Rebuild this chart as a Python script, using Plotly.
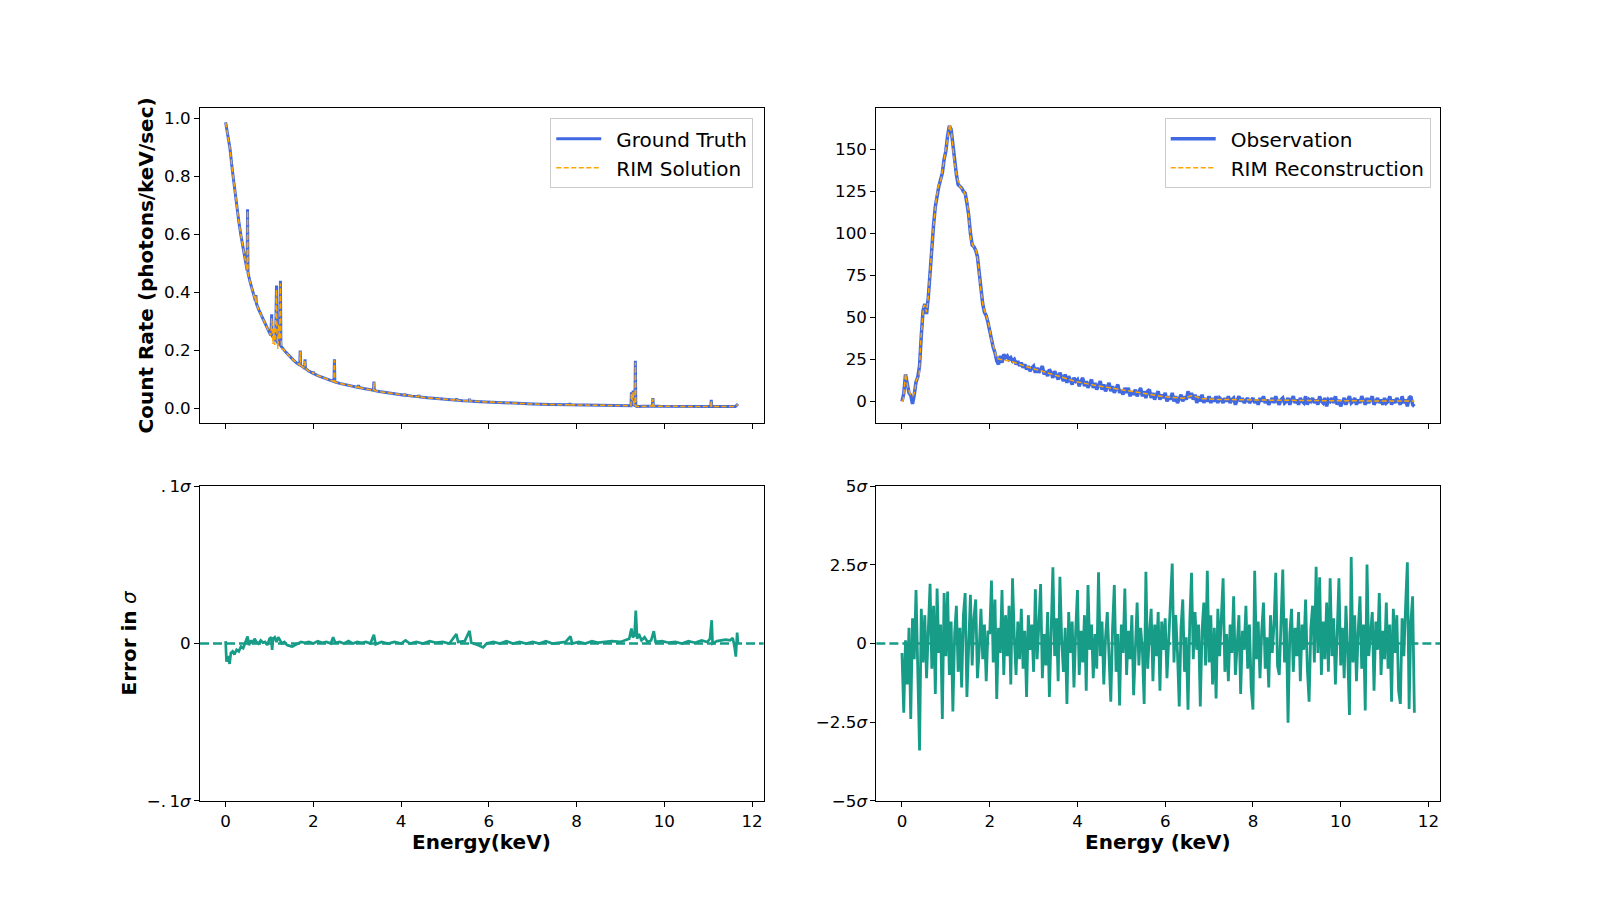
import plotly.graph_objects as go

## colours / fonts (matplotlib look)
BLUE = 'royalblue'
ORANGE = 'orange'
TEAL = '#179c87'
FONT = 'DejaVu Sans'

## ---------------- top left: ground truth vs RIM solution ----------------
energy_truth = [
    0.00, 0.05, 0.10, 0.15, 0.20, 0.25, 0.30, 0.35, 0.40, 0.45,
    0.49, 0.50, 0.51, 0.55, 0.60, 0.65, 0.68, 0.69, 0.70, 0.75,
    0.80, 0.85, 0.90, 0.95, 1.00, 1.03, 1.04, 1.05, 1.06, 1.08,
    1.10, 1.12, 1.14, 1.15, 1.16, 1.17, 1.19, 1.21, 1.23, 1.24,
    1.25, 1.26, 1.28, 1.32, 1.38, 1.45, 1.54, 1.62, 1.69, 1.70,
    1.71, 1.76, 1.80, 1.81, 1.82, 1.90, 1.99, 2.00, 2.01, 2.10,
    2.23, 2.35, 2.47, 2.48, 2.49, 2.60, 2.75, 2.90, 3.02, 3.03,
    3.04, 3.15, 3.28, 3.37, 3.38, 3.39, 3.50, 3.65, 3.80, 3.95,
    4.08, 4.09, 4.10, 4.25, 4.40, 4.41, 4.42, 4.60, 4.80, 5.00,
    5.15, 5.26, 5.27, 5.28, 5.40, 5.55, 5.56, 5.57, 5.80, 6.05,
    6.30, 6.60, 7.00, 7.40, 7.84, 7.85, 7.86, 8.20, 8.60, 9.00,
    9.22, 9.24, 9.25, 9.26, 9.28, 9.29, 9.30, 9.32, 9.33, 9.34,
    9.35, 9.37, 9.45, 9.60, 9.73, 9.74, 9.75, 9.90, 10.20, 10.50,
    10.80, 11.06, 11.07, 11.08, 11.30, 11.50, 11.62, 11.68]
ground_truth = [
    0.986, 0.935, 0.895, 0.825, 0.760, 0.700, 0.645, 0.595, 0.550, 0.505,
    0.475, 0.686, 0.468, 0.440, 0.410, 0.385, 0.370, 0.390, 0.362, 0.342,
    0.325, 0.305, 0.288, 0.272, 0.260, 0.252, 0.300, 0.324, 0.250, 0.245,
    0.240, 0.236, 0.232, 0.340, 0.423, 0.230, 0.226, 0.222, 0.219, 0.350,
    0.440, 0.215, 0.210, 0.203, 0.192, 0.180, 0.167, 0.156, 0.149, 0.199,
    0.148, 0.143, 0.138, 0.169, 0.137, 0.128, 0.121, 0.127, 0.120, 0.113,
    0.105, 0.098, 0.092, 0.169, 0.091, 0.086, 0.081, 0.076, 0.072, 0.080,
    0.072, 0.068, 0.064, 0.062, 0.092, 0.061, 0.058, 0.055, 0.051, 0.048,
    0.045, 0.051, 0.045, 0.042, 0.040, 0.046, 0.039, 0.036, 0.033, 0.031,
    0.029, 0.028, 0.034, 0.028, 0.026, 0.025, 0.033, 0.025, 0.023, 0.021,
    0.019, 0.017, 0.015, 0.013, 0.012, 0.018, 0.012, 0.011, 0.010, 0.009,
    0.009, 0.009, 0.055, 0.030, 0.030, 0.061, 0.012, 0.010, 0.010, 0.164,
    0.008, 0.006, 0.007, 0.008, 0.008, 0.035, 0.008, 0.007, 0.007, 0.006,
    0.006, 0.006, 0.029, 0.006, 0.006, 0.005, 0.006, 0.015]
rim_solution = [
    0.986, 0.935, 0.895, 0.825, 0.760, 0.700, 0.645, 0.595, 0.550, 0.505,
    0.475, 0.680, 0.468, 0.440, 0.410, 0.385, 0.370, 0.388, 0.362, 0.342,
    0.325, 0.305, 0.288, 0.272, 0.260, 0.252, 0.290, 0.310, 0.285, 0.222,
    0.275, 0.218, 0.300, 0.330, 0.410, 0.262, 0.205, 0.290, 0.238, 0.340,
    0.430, 0.250, 0.205, 0.203, 0.192, 0.180, 0.167, 0.156, 0.149, 0.196,
    0.148, 0.143, 0.138, 0.167, 0.137, 0.128, 0.121, 0.126, 0.120, 0.113,
    0.105, 0.098, 0.092, 0.166, 0.091, 0.086, 0.081, 0.076, 0.072, 0.079,
    0.072, 0.068, 0.064, 0.062, 0.090, 0.061, 0.058, 0.055, 0.051, 0.048,
    0.045, 0.050, 0.045, 0.042, 0.040, 0.045, 0.039, 0.036, 0.033, 0.031,
    0.029, 0.028, 0.033, 0.028, 0.026, 0.025, 0.032, 0.025, 0.023, 0.021,
    0.019, 0.017, 0.015, 0.013, 0.012, 0.017, 0.012, 0.011, 0.010, 0.009,
    0.009, 0.009, 0.050, 0.032, 0.028, 0.058, 0.014, 0.010, 0.010, 0.158,
    0.008, 0.006, 0.007, 0.008, 0.008, 0.033, 0.008, 0.007, 0.007, 0.006,
    0.006, 0.006, 0.027, 0.006, 0.006, 0.005, 0.006, 0.014]

## ---------------- top right: observation vs RIM reconstruction ----------------
energy_recon = [
    0.00, 0.03, 0.08, 0.13, 0.18, 0.24, 0.28, 0.33, 0.39, 0.43,
    0.49, 0.52, 0.56, 0.60, 0.66, 0.71, 0.78, 0.83, 0.89, 0.94,
    1.00, 1.04, 1.09, 1.13, 1.19, 1.25, 1.32, 1.40, 1.46, 1.51,
    1.57, 1.63, 1.69, 1.74, 1.79, 1.85, 1.93, 1.99, 2.04, 2.11,
    2.16, 2.23, 2.31, 2.46, 2.69, 2.84, 3.22, 3.60, 3.98, 4.36,
    4.74, 5.12, 5.43, 5.96, 6.42, 6.61, 6.84, 7.18, 8.00, 9.00,
    10.00, 11.68]
rim_reconstruction = [
    0.0, 1.0, 16.5, 8.7, 4.8, 3.0, 4.8, 12.7, 15.0, 36.5,
    56.3, 57.3, 53.0, 62.3, 84.0, 102.0, 120.0, 128.0, 132.0, 140.0,
    149.6, 157.5, 165.0, 159.5, 143.7, 133.7, 127.8, 125.8, 121.8, 113.9,
    96.0, 92.0, 90.0, 82.0, 68.0, 56.3, 50.4, 44.4, 36.5, 30.6,
    25.6, 25.0, 24.8, 24.0, 22.0, 20.6, 17.7, 14.7, 11.7, 9.7,
    8.1, 6.2, 5.2, 2.8, 1.8, 3.4, 1.6, 1.2, 0.8, 0.4,
    0.3, 0.2]

## energy bins of the observed spectrum (0.04 keV wide)
energy_bins = [round(0.04 * i, 2) for i in range(293)]

observation = [
    0.0, 4.5, 16.0, 10.5, 5.0, 3.5, -1.5, 4.0, 11.5, 14.5, 21.0, 39.0, 54.0, 58.0, 52.0, 62.0, 78.0, 90.0, 105.0, 116.0, 123.0, 128.0, 132.0, 136.0, 144.0,
    149, 158, 164, 162, 152, 141, 135, 129, 128, 127, 125, 124, 118, 111, 100, 93, 92, 90, 86, 76, 66, 58, 53, 51, 47,
    43, 37, 32, 29, 24, 22, 27, 23, 28, 26, 27, 25, 26, 24, 25, 22, 24, 21, 23, 20, 22, 19, 21, 18, 20,
    21, 17, 20, 17, 19, 21, 16, 18, 15, 19, 17, 14, 18, 16, 13, 17, 15, 12, 16, 11, 15, 13, 10, 14, 12,
    13, 9, 12, 14, 9, 12, 8, 11, 13, 8, 11, 7, 10, 12, 7, 10, 6, 9, 11, 6, 9, 5, 8, 10, 5,
    7, 4, 8, 5, 8, 3, 6, 4, 7, 3, 6, 8, 3, 6, 2, 6, 7, 2, 5, 1, 4, 6, 1, 4, 2,
    5, 0, 3, 1, 5, 0, 3, -1, 2, 4, 0, 3, 1, 6, 2, 5, 1, 4, -1, 3, 0, 4, -1, 2, 0,
    3, -1, 2, 0, 3, -1, 2, 1, -1, 2, 0, 3, -1, 1, 2, -2, 1, 3, 0, 2, -1, 1, 2, -1, 1,
    2, -1, 1, -2, 2, 0, 3, -1, 1, -2, 0, 2, -1, 3, 0, -2, 1, 2, -1, 0, 2, -2, 1, 3, -1,
    1, -2, 2, 0, -1, 3, -2, 1, 0, 2, -1, 1, -2, 3, 0, -1, 2, -3, 1, 0, 2, -1, 3, -2, 1,
    -3, 0, 2, -2, 1, 3, -1, 0, 2, -2, 1, -1, 3, 0, -2, 2, -1, 1, 3, -2, 0, 2, -1, 1, -2,
    2, -1, 0, 3, -2, 1, -1, 2, 0, -2, 3, -1, 1, -3, 2, 3, -2, -3]

## ---------------- bottom left: solution error (in sigma) ----------------
energy_err_sol = [
    0.00, 0.02, 0.05, 0.09, 0.12, 0.16, 0.20, 0.25, 0.30, 0.35,
    0.40, 0.45, 0.50, 0.53, 0.58, 0.62, 0.66, 0.70, 0.75, 0.80,
    0.85, 0.90, 0.95, 1.00, 1.04, 1.06, 1.08, 1.12, 1.16, 1.20,
    1.24, 1.28, 1.34, 1.40, 1.46, 1.52, 1.58, 1.64, 1.72, 1.80,
    1.90, 2.00, 2.10, 2.20, 2.30, 2.40, 2.45, 2.50, 2.60, 2.70,
    2.80, 2.90, 3.00, 3.10, 3.20, 3.30, 3.38, 3.42, 3.55, 3.70,
    3.85, 4.00, 4.10, 4.20, 4.35, 4.50, 4.65, 4.80, 4.95, 5.10,
    5.26, 5.30, 5.45, 5.56, 5.60, 5.75, 5.87, 5.95, 6.10, 6.25,
    6.40, 6.55, 6.70, 6.85, 7.00, 7.15, 7.30, 7.45, 7.60, 7.75,
    7.86, 7.90, 8.05, 8.20, 8.35, 8.50, 8.65, 8.80, 9.00, 9.10,
    9.20, 9.25, 9.28, 9.32, 9.35, 9.38, 9.42, 9.48, 9.55, 9.62,
    9.70, 9.76, 9.80, 9.95, 10.10, 10.25, 10.40, 10.55, 10.70, 10.85,
    10.98, 11.04, 11.08, 11.10, 11.20, 11.30, 11.40, 11.50, 11.56, 11.60,
    11.63, 11.66, 11.68]
err_solution = [
    0.0015, -0.0115, -0.008, -0.013, -0.006, -0.005, -0.007, -0.004, -0.005, -0.002,
    -0.003, 0.001, 0.0045, -0.001, 0.002, 0.0, 0.003, 0.001, 0.0, 0.002,
    0.0005, 0.001, -0.001, 0.003, 0.004, -0.004, 0.003, 0.004, 0.001, 0.004,
    0.002, 0.0, 0.001, -0.001, -0.0015, -0.002, -0.001, 0.0, 0.001, 0.0005,
    0.001, 0.0, 0.0015, 0.0005, 0.001, 0.0, 0.004, 0.0005, 0.001, 0.0,
    0.0015, 0.0, 0.001, 0.0005, 0.001, 0.0, 0.0055, -0.0005, 0.001, 0.0,
    0.001, 0.0, 0.002, 0.0, 0.001, 0.0, 0.0015, 0.0005, 0.001, 0.0,
    0.006, 0.001, 0.0015, 0.008, 0.0005, -0.001, -0.0025, 0.0, 0.001, 0.0,
    0.0015, 0.0, 0.001, 0.0, 0.001, 0.0, 0.0015, 0.0, 0.0005, 0.001,
    0.0046, 0.0, 0.001, 0.0, 0.0015, 0.0005, 0.001, 0.0015, 0.001, 0.002,
    0.003, 0.0095, 0.004, 0.005, 0.021, 0.003, 0.006, 0.002, 0.004, 0.001,
    0.002, 0.0078, 0.001, 0.0015, 0.0005, 0.001, 0.0, 0.0015, 0.0005, 0.002,
    0.001, 0.003, 0.0148, 0.0, 0.0015, 0.002, 0.0025, 0.002, 0.0035, -0.002,
    -0.0084, 0.007, 0.0]

## ---------------- bottom right: reconstruction error (in sigma) ----------------
err_reconstruction = [
    -0.3, -2.2, 0.1, -1.3, 0.5, -2.4, 0.8, -0.5, 1.7, -1.2, -3.4, 1.1, -0.6, 0.9, -1.1, 0.4, 1.9, -0.8, 1.2, -1.6, 1.75, -0.3, 0.6, -2.4, 1.6,
    -0.4, 1.65, -1.0, 0.7, -2.16, 0.3, 1.2, -0.9, 0.5, -1.4, 0.9, 1.6, -1.7, 0.2, 1.55, -0.7, 0.8, 1.4, -1.1, -0.2, 1.1, -0.5, 0.6, -1.2, 0.4,
    0.3, 2.0, -0.6, 1.4, -1.76, 0.5, -0.3, 1.7, -1.0, 0.9, -0.4, 1.2, -1.3, 2.07, 0.2, -1.0, 0.7, -0.5, 1.1, -0.8, 0.4, -1.7, 0.9, -0.2, 0.6,
    -0.9, 1.72, -0.5, 0.6, 1.89, -1.1, 0.3, -0.7, 1.0, -1.7, 0.2, 2.42, -0.4, 0.8, -1.2, 2.12, 0.1, -0.9, 0.5, -1.92, 1.0, -0.3, 0.7, -1.4, 0.4,
    1.7, -1.0, 0.4, -0.6, 0.9, -1.5, 1.86, -0.2, 0.6, -1.1, 0.3, -0.8, 2.26, -0.4, 0.7, -1.3, 0.2, 1.0, -0.6, -1.85, 0.5, 1.86, -0.9, 0.3, -1.97,
    0.6, -0.3, 1.75, -1.0, 0.4, -0.5, 0.9, -1.64, 0.2, 1.3, -0.7, 0.5, -0.2, -1.92, 2.28, -0.8, 0.3, 1.1, -1.2, 0.6, -0.4, 1.0, -1.5, 0.7, -0.2,
    0.8, -1.1, 0.3, 1.2, 2.54, -0.6, 0.9, -0.3, -2.0, 0.5, 1.4, -0.9, 0.2, -2.1, 0.7, 2.25, -0.5, 1.0, -0.2, 0.6, -2.0, 0.4, 1.3, -0.7, 2.31,
    -0.6, 0.9, -1.3, 0.5, -1.75, 1.1, -0.4, 0.8, 2.07, -0.9, 0.3, -1.2, 0.6, -0.3, 1.5, -1.0, 0.2, 0.9, -1.6, 0.4, -0.2, 1.2, -0.8, 0.6, -1.4,
    -2.1, 2.31, -0.5, 0.7, -1.1, 0.4, 1.3, -0.8, 0.2, -1.4, 0.9, -0.3, 0.6, 2.25, -0.7, -1.0, 0.4, 2.35, -0.6, 0.8, -2.52, 0.3, 1.1, -0.9, 0.5,
    -0.4, 1.0, -1.2, 0.6, -0.2, 1.4, -0.8, -1.85, 0.5, 1.2, -0.6, 2.44, -0.3, 2.1, -1.0, 0.7, -0.5, 1.3, -0.9, 2.07, -0.4, 0.8, -1.3, 0.3, 2.07,
    -0.7, 0.5, -1.1, 1.2, -0.3, -2.27, 2.75, -0.6, 0.9, -1.2, 0.4, 1.5, -0.8, 0.6, -2.13, 2.51, -0.4, 0.3, 1.0, -1.5, 0.7, -0.2, 1.6, -1.0, 0.4,
    -0.5, 1.3, -0.8, 0.6, -1.85, 1.1, -0.3, 0.9, -1.5, -1.92, 0.8, -0.4, 1.2, 2.58, -2.08, 0.7, 1.5, -2.2]

## tick labels (mathtext style: ". 1" gets a thin gap, sigma italic)
x_ticks = [0, 2, 4, 6, 8, 10, 12]
tl_yticks = [0.0, 0.2, 0.4, 0.6, 0.8, 1.0]
tr_yticks = [0, 25, 50, 75, 100, 125, 150]
bl_yticks = [-0.1, 0, 0.1]
bl_yticktext = ['\u2212.\u20091<i>\u03c3</i>', '0', '.\u20091<i>\u03c3</i>']
br_yticks = [-5, -2.5, 0, 2.5, 5]
br_yticktext = ['\u22125<i>\u03c3</i>', '\u22122.5<i>\u03c3</i>', '0',
                '2.5<i>\u03c3</i>', '5<i>\u03c3</i>']

## figure
fig = go.Figure()

# legend names get a small lead gap like matplotlib's handletextpad
fig.add_trace(go.Scatter(x=energy_truth, y=ground_truth, mode='lines',
                         name='\u2002Ground Truth', xaxis='x', yaxis='y', legend='legend',
                         line=dict(color=BLUE, width=3)))
fig.add_trace(go.Scatter(x=energy_truth, y=rim_solution, mode='lines',
                         name='\u2002RIM Solution', xaxis='x', yaxis='y', legend='legend',
                         line=dict(color=ORANGE, width=1.5, dash='5px,2.5px')))

fig.add_trace(go.Scatter(x=energy_bins, y=observation, mode='lines',
                         name='\u2002Observation', xaxis='x2', yaxis='y2', legend='legend2',
                         line=dict(color=BLUE, width=3.5)))
fig.add_trace(go.Scatter(x=energy_recon, y=rim_reconstruction, mode='lines',
                         name='\u2002RIM Reconstruction', xaxis='x2', yaxis='y2', legend='legend2',
                         line=dict(color=ORANGE, width=1.5, dash='5px,2.5px')))

fig.add_trace(go.Scatter(x=energy_err_sol, y=err_solution, mode='lines',
                         showlegend=False, xaxis='x3', yaxis='y3',
                         line=dict(color=TEAL, width=2.7)))
fig.add_trace(go.Scatter(x=energy_bins, y=err_reconstruction, mode='lines',
                         showlegend=False, xaxis='x4', yaxis='y4',
                         line=dict(color=TEAL, width=2.8)))

# dashed zero lines in the error panels
for ax in ['3', '4']:
    fig.add_shape(type='line', xref='x' + ax + ' domain', yref='y' + ax,
                  x0=0, x1=1, y0=0, y1=0,
                  line=dict(color=TEAL, width=2.7, dash='9px,4px'))

## matplotlib-like axis style
def axis_style(**kw):
    d = dict(showline=True, linecolor='black', linewidth=1.1, mirror=True,
             ticks='outside', ticklen=5, tickwidth=1.1, tickcolor='black',
             showgrid=False, zeroline=False, automargin=False,
             tickfont=dict(family=FONT, size=16.7, color='black'))
    d.update(kw)
    return d

x_left = [0.125, 0.477273]
x_right = [0.547727, 0.9]
y_top = [0.53, 0.88]
y_bot = [0.11, 0.46]
x_range = [-0.584, 12.264]

fig.update_layout(
    width=1600, height=900,
    margin=dict(l=0, r=0, t=0, b=0, pad=0, autoexpand=False),
    paper_bgcolor='white', plot_bgcolor='white',
    font=dict(family=FONT, color='black'),
    xaxis=axis_style(domain=x_left, anchor='y', range=x_range,
                     tickvals=x_ticks, showticklabels=False),
    yaxis=axis_style(domain=y_top, anchor='x', range=[-0.0507, 1.0355],
                     tickvals=tl_yticks, tickformat='.1f'),
    xaxis2=axis_style(domain=x_right, anchor='y2', range=x_range,
                      tickvals=x_ticks, showticklabels=False),
    yaxis2=axis_style(domain=y_top, anchor='x2', range=[-12.9, 174.6],
                      tickvals=tr_yticks),
    xaxis3=axis_style(domain=x_left, anchor='y3', range=x_range,
                      tickvals=x_ticks),
    yaxis3=axis_style(domain=y_bot, anchor='x3', range=[-0.1002, 0.1002],
                      tickvals=bl_yticks, ticktext=bl_yticktext),
    xaxis4=axis_style(domain=x_right, anchor='y4', range=x_range,
                      tickvals=x_ticks),
    yaxis4=axis_style(domain=y_bot, anchor='x4', range=[-5.004, 5.004],
                      tickvals=br_yticks, ticktext=br_yticktext),
    legend=dict(x=0.4708, y=0.8686, xanchor='right', yanchor='top', itemwidth=45,
                font=dict(family=FONT, size=20, color='black'),
                bgcolor='rgba(255,255,255,0.8)', bordercolor='#cccccc', borderwidth=1),
    legend2=dict(x=0.8942, y=0.8686, xanchor='right', yanchor='top', itemwidth=45,
                 font=dict(family=FONT, size=20, color='black'),
                 bgcolor='rgba(255,255,255,0.8)', bordercolor='#cccccc', borderwidth=1),
    showlegend=True,
)

## axis labels
lab_font = dict(family=FONT, size=20, color='black')
fig.add_annotation(text='<b>Count Rate (photons/keV/sec)</b>', textangle=-90,
                   xref='paper', yref='paper', x=146 / 1600, y=1 - 265.5 / 900,
                   xanchor='center', yanchor='middle', showarrow=False, font=lab_font)
fig.add_annotation(text='<b>Error in</b> <i>\u03c3</i>', textangle=-90,
                   xref='paper', yref='paper', x=128 / 1600, y=1 - 643.5 / 900,
                   xanchor='center', yanchor='middle', showarrow=False, font=lab_font)
fig.add_annotation(text='<b>Energy(keV)</b>', xref='paper', yref='paper',
                   x=sum(x_left) / 2, y=1 - 842 / 900, xanchor='center', yanchor='middle',
                   showarrow=False, font=lab_font)
fig.add_annotation(text='<b>Energy (keV)</b>', xref='paper', yref='paper',
                   x=sum(x_right) / 2, y=1 - 842 / 900, xanchor='center', yanchor='middle',
                   showarrow=False, font=lab_font)

# page body margin off so the figure sits at the window origin
fig.write_html("out.html", config={'displayModeBar': False},
               post_script="document.body.style.margin='0px';")
